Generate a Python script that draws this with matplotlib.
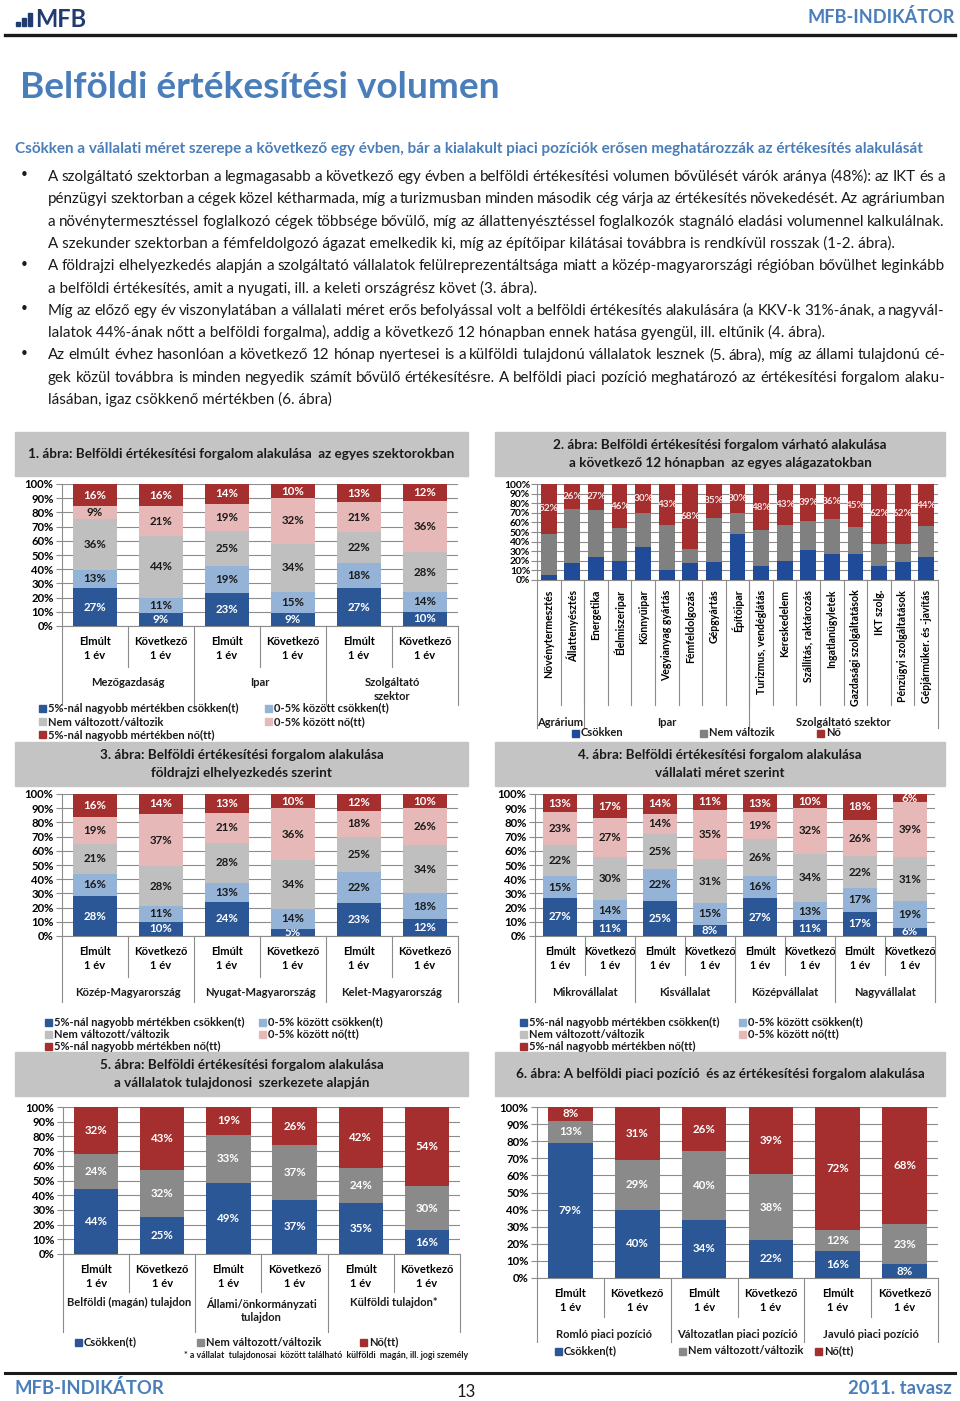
import matplotlib
matplotlib.use("Agg")
import matplotlib.pyplot as plt
import numpy as np
from matplotlib import font_manager
from matplotlib.lines import Line2D
from matplotlib.patches import Rectangle
from matplotlib.transforms import blended_transform_factory

W, H = 960, 1401

_NAMES = {f.name for f in font_manager.fontManager.ttflist}
NARROW = "Liberation Sans Narrow" if "Liberation Sans Narrow" in _NAMES else "Lato"

# ---- colours ----
BLUE_D = "#2B5796"
BLUE_L = "#95B3D7"
GREY_L = "#BFBFBF"
PINK = "#E6B9B8"
RED = "#A42F2E"
GREY_D = "#8A8A8A"
TITLE_BLUE = "#4A7EBB"
DARK = "#1A1A1A"
AXIS = "#8C8C8C"

# ---- text ----
TITLE = "Belföldi értékesítési volumen"
SUBTITLE = ("Csökken a vállalati méret szerepe a következő egy évben, bár a kialakult "
            "piaci pozíciók erősen meghatározzák az értékesítés alakulását")
BODY = [
    ("A szolgáltató szektorban a legmagasabb a következő egy évben a belföldi értékesítési volumen bővülését várók aránya (48%): az IKT és a", True, True),
    ("pénzügyi szektorban a cégek közel kétharmada, míg a turizmusban minden második cég várja az értékesítés növekedését. Az agráriumban", False, True),
    ("a növénytermesztéssel foglalkozó cégek többsége bővülő, míg az állattenyésztéssel foglalkozók stagnáló eladási volumennel kalkulálnak.", False, True),
    ("A szekunder szektorban a fémfeldolgozó ágazat emelkedik ki, míg az építőipar kilátásai továbbra is rendkívül rosszak (1-2. ábra).", False, False),
    ("A földrajzi elhelyezkedés alapján a szolgáltató vállalatok felülreprezentáltsága miatt a közép-magyarországi régióban bővülhet leginkább", True, True),
    ("a belföldi értékesítés, amit a nyugati, ill. a keleti országrész követ (3. ábra).", False, False),
    ("Míg az előző egy év viszonylatában a vállalati méret erős befolyással volt a belföldi értékesítés alakulására (a KKV-k 31%-ának, a nagyvál-", True, True),
    ("lalatok 44%-ának nőtt a belföldi forgalma), addig a következő 12 hónapban ennek hatása gyengül, ill. eltűnik (4. ábra).", False, False),
    ("Az elmúlt évhez hasonlóan a következő 12 hónap nyertesei is a külföldi tulajdonú vállalatok lesznek (5. ábra), míg az állami tulajdonú cé-", True, True),
    ("gek közül továbbra is minden negyedik számít bővülő értékesítésre. A belföldi piaci pozíció meghatározó az értékesítési forgalom alaku-", False, True),
    ("lásában, igaz csökkenő mértékben (6. ábra)", False, False),
]

PERIODS2 = ["Elmúlt\n1 év", "Következő\n1 év"]
LEG5 = ["5%-nál nagyobb mértékben csökken(t)", "0-5% között csökken(t)",
        "Nem változott/változik", "0-5% között nő(tt)",
        "5%-nál nagyobb mértékben nő(tt)"]
LEG3 = ["Csökken(t)", "Nem változott/változik", "Nő(tt)"]

# ---- 1. ábra: szektorok ----
C1_GROUPS = ["Mezőgazdaság", "Ipar", "Szolgáltató\nszektor"]
C1_DEC5 = [27, 9, 23, 9, 27, 10]
C1_DEC0 = [13, 11, 19, 15, 18, 14]
C1_SAME = [36, 44, 25, 34, 22, 28]
C1_INC0 = [9, 21, 19, 32, 21, 36]
C1_INC5 = [16, 16, 14, 10, 13, 12]

# ---- 2. ábra: alágazatok ----
C2_SECTORS = ["Növénytermesztés", "Állattenyésztés", "Energetika", "Élelmiszeripar",
              "Könnyűipar", "Vegyianyag gyártás", "Fémfeldolgozás", "Gépgyártás",
              "Építőipar", "Turizmus, vendéglátás", "Kereskedelem",
              "Szállítás, raktározás", "Ingatlanügyletek", "Gazdasági szolgáltatások",
              "IKT szolg.", "Pénzügyi szolgáltatások", "Gépjárműker. és -javítás"]
C2_GROUPS = ["Agrárium", "Ipar", "Szolgáltató szektor"]
C2_GROUP_SIZES = [2, 7, 8]
C2_DOWN = [5, 18, 24, 20, 34, 10, 18, 19, 48, 15, 20, 31, 27, 27, 15, 19, 24]
C2_SAME = [43, 56, 49, 34, 36, 47, 14, 46, 22, 37, 37, 30, 37, 28, 23, 19, 32]
C2_UP = [52, 26, 27, 46, 30, 43, 68, 35, 30, 48, 43, 39, 36, 45, 62, 62, 44]

# ---- 3. ábra: régiók ----
C3_GROUPS = ["Közép-Magyarország", "Nyugat-Magyarország", "Kelet-Magyarország"]
C3_DEC5 = [28, 10, 24, 5, 23, 12]
C3_DEC0 = [16, 11, 13, 14, 22, 18]
C3_SAME = [21, 28, 28, 34, 25, 34]
C3_INC0 = [19, 37, 21, 36, 18, 26]
C3_INC5 = [16, 14, 13, 10, 12, 10]

# ---- 4. ábra: vállalati méret ----
C4_GROUPS = ["Mikrovállalat", "Kisvállalat", "Középvállalat", "Nagyvállalat"]
C4_DEC5 = [27, 11, 25, 8, 27, 11, 17, 6]
C4_DEC0 = [15, 14, 22, 15, 16, 13, 17, 19]
C4_SAME = [22, 30, 25, 31, 26, 34, 22, 31]
C4_INC0 = [23, 27, 14, 35, 19, 32, 26, 39]
C4_INC5 = [13, 17, 14, 11, 13, 10, 18, 6]

# ---- 5. ábra: tulajdonosi szerkezet ----
C5_GROUPS = ["Belföldi (magán) tulajdon", "Állami/önkormányzati\ntulajdon", "Külföldi tulajdon*"]
C5_DOWN = [44, 25, 49, 37, 35, 16]
C5_SAME = [24, 32, 33, 37, 24, 30]
C5_UP = [32, 43, 19, 26, 42, 54]

# ---- 6. ábra: piaci pozíció ----
C6_GROUPS = ["Romló piaci pozíció", "Változatlan piaci pozíció", "Javuló piaci pozíció"]
C6_DOWN = [79, 40, 34, 22, 16, 8]
C6_SAME = [13, 29, 40, 38, 12, 23]
C6_UP = [8, 31, 26, 39, 72, 68]

LABEL_SIZE = 8.3
TICK_SIZE = 8.2


def fx(x):
    return x / W


def fy(y):
    return 1 - y / H


def text_width(fig, s, size, **kw):
    """Width in pixels of a string at a given size."""
    t = fig.text(0, 0, s, fontsize=size, **kw)
    w = t.get_window_extent(fig.canvas.get_renderer()).width
    t.remove()
    return w


def fit_size(fig, s, width, **kw):
    return 10 * width / text_width(fig, s, 10, **kw)


def justify(fig, x0, x1, y, s, size, **kw):
    """Spread the words of one line between x0 and x1."""
    words = s.split()
    widths = [text_width(fig, w, size, **kw) for w in words]
    gap = (x1 - x0 - sum(widths)) / (len(words) - 1)
    x = x0
    for word, ww in zip(words, widths):
        fig.text(fx(x), fy(y), word, fontsize=size, va="baseline", **kw)
        x += ww + gap


def axes_px(fig, l, t, r, b):
    return fig.add_axes([l / W, 1 - b / H, (r - l) / W, (b - t) / H])


def title_box(fig, l, t, r, b, lines, size):
    fig.patches.append(Rectangle((fx(l), fy(b)), (r - l) / W, (b - t) / H,
                                 transform=fig.transFigure, color="#C4C4C4", zorder=0))
    mid = (t + b) / 2
    n = len(lines)
    for i, s in enumerate(lines):
        y = mid + (i - (n - 1) / 2) * 18
        fig.text(fx((l + r) / 2), fy(y), s, fontsize=size, fontweight="bold",
                 color=DARK, ha="center", va="center", family=NARROW)


def legend_item(fig, x, y, color, label, size=8.0):
    fig.patches.append(Rectangle((fx(x - 3.5), fy(y + 3.5)), 7 / W, 7 / H,
                                 transform=fig.transFigure, color=color))
    fig.text(fx(x + 6), fy(y), label, fontsize=size, fontweight="bold",
             color=DARK, va="center", family=NARROW)


def stacked(ax, series, colors, txt_colors, label_size=LABEL_SIZE):
    data = np.array(series, dtype=float)
    share = data / data.sum(axis=0) * 100
    x = np.arange(data.shape[1])
    bottom = np.zeros(len(x))
    for vals, sh, c, tc in zip(data, share, colors, txt_colors):
        bars = ax.bar(x, sh, 0.67, bottom=bottom, color=c, zorder=3)
        if tc is not None:
            ax.bar_label(bars, labels=[f"{v:.0f}%" for v in vals], label_type="center",
                         color=tc, fontsize=label_size, fontweight="bold", family=NARROW)
        bottom += sh
    return x


def style_axes(ax, n, ysize=TICK_SIZE):
    ax.set_xlim(-0.5, n - 0.5)
    ax.set_ylim(0, 100)
    ax.set_yticks(range(0, 101, 10))
    ax.set_yticklabels([f"{v}%" for v in range(0, 101, 10)], fontweight="bold",
                       fontsize=ysize, family=NARROW)
    ax.yaxis.grid(True, color=AXIS, lw=0.8, zorder=0)
    for side in ("top", "right"):
        ax.spines[side].set_visible(False)
    for side in ("left", "bottom"):
        ax.spines[side].set_color(AXIS)
        ax.spines[side].set_linewidth(0.8)
    ax.tick_params(axis="y", length=4, width=0.8, color=AXIS, pad=2)
    ax.tick_params(axis="x", length=0)


def category_axis(ax, labels, label_pad_px, size=8.0):
    ax.set_xticks(np.arange(len(labels)))
    ax.set_xticklabels(labels, fontweight="bold", fontsize=size, family=NARROW,
                       linespacing=1.3)
    ax.tick_params(axis="x", pad=label_pad_px * 0.72)


def separators(fig, ax, positions, top_px, end_px):
    trans = blended_transform_factory(ax.transData, fig.transFigure)
    for p in positions:
        ax.add_line(Line2D([p, p], [fy(top_px), fy(end_px)], transform=trans,
                           color=AXIS, lw=0.8, clip_on=False))


def group_labels(fig, ax, labels, centers, y_px, size=8.0):
    trans = blended_transform_factory(ax.transData, fig.transFigure)
    for s, c in zip(labels, centers):
        ax.text(c, fy(y_px), s, transform=trans, ha="center", va="top",
                fontsize=size, fontweight="bold", family=NARROW, color=DARK,
                linespacing=1.3)


def paired_chart(fig, box, series, colors, txt_colors, groups, sep_px, grp_px,
                 cat_size=8.0):
    """Elmúlt / Következő pairs with group labels below."""
    l, t, r, b = box
    ax = axes_px(fig, l, t, r, b)
    n = len(series[0])
    stacked(ax, series, colors, txt_colors)
    style_axes(ax, n)
    category_axis(ax, PERIODS2 * (n // 2), 10, size=cat_size)
    inner = [2 * i + 0.5 for i in range(n // 2)]
    outer = [2 * i - 0.5 for i in range(n // 2 + 1)]
    separators(fig, ax, inner, b, sep_px[0])
    separators(fig, ax, outer, b, sep_px[1])
    group_labels(fig, ax, groups, inner, grp_px)
    return ax


def draw_header(fig):
    # logo
    for x0, h in ((16, 4), (22, 8), (28, 13)):
        fig.patches.append(Rectangle((fx(x0), fy(26)), 4 / W, h / H,
                                     transform=fig.transFigure, color="#1F3B70"))
    fig.text(fx(35), fy(27), "MFB", fontsize=17, fontweight="bold", color="#1F3B70",
             va="baseline", family="Lato")
    s = fit_size(fig, "MFB-INDIKÁTOR", 147, fontweight="bold", family=NARROW)
    fig.text(fx(955), fy(17), "MFB-INDIKÁTOR", fontsize=s, fontweight="bold",
             color=TITLE_BLUE, ha="right", va="center", family=NARROW)
    fig.add_artist(Line2D([fx(5), fx(955)], [fy(35), fy(35)], transform=fig.transFigure,
                          color=DARK, lw=2.4))
    s = fit_size(fig, TITLE, 482, fontweight="bold", family=NARROW)
    fig.text(fx(20), fy(87), TITLE, fontsize=s, fontweight="bold", color=TITLE_BLUE,
             va="center", family=NARROW)
    s = fit_size(fig, SUBTITLE, 907, fontweight="bold", family=NARROW)
    fig.text(fx(15), fy(149), SUBTITLE, fontsize=s, fontweight="bold", color=TITLE_BLUE,
             va="center", family=NARROW)


def draw_body(fig):
    size = fit_size(fig, BODY[3][0], 842, family=NARROW)
    for i, (line, bullet, just) in enumerate(BODY):
        y = 176 + i * 22.3
        base = y + 5
        if bullet:
            fig.text(fx(20), fy(y), "•", fontsize=size, color=DARK, va="center",
                     family="DejaVu Sans")
        if just:
            justify(fig, 48, 945, base, line, size, color=DARK, family=NARROW)
        else:
            fig.text(fx(48), fy(base), line, fontsize=size, color=DARK, va="baseline",
                     family=NARROW)


def draw_footer(fig):
    fig.add_artist(Line2D([fx(5), fx(955)], [fy(1373), fy(1373)], transform=fig.transFigure,
                          color=DARK, lw=2.2))
    s = fit_size(fig, "MFB-INDIKÁTOR", 150, fontweight="bold", family=NARROW)
    fig.text(fx(15), fy(1388), "MFB-INDIKÁTOR", fontsize=s, fontweight="bold",
             color=TITLE_BLUE, va="center", family=NARROW)
    fig.text(fx(952), fy(1388), "2011. tavasz", fontsize=s, fontweight="bold",
             color=TITLE_BLUE, ha="right", va="center", family=NARROW)
    fig.text(fx(466), fy(1392), "13", fontsize=12, color=DARK, ha="center",
             va="center", family=NARROW)


def main():
    fig = plt.figure(figsize=(W / 100, H / 100), dpi=100)
    draw_header(fig)
    draw_body(fig)

    tsize = fit_size(fig, "3. ábra: Belföldi értékesítési forgalom alakulása", 284,
                     fontweight="bold", family=NARROW)
    five = [BLUE_D, BLUE_L, GREY_L, PINK, RED]
    five_txt = ["white", DARK, DARK, DARK, "white"]

    # 1. ábra
    title_box(fig, 15, 432, 468, 476,
              ["1. ábra: Belföldi értékesítési forgalom alakulása  az egyes szektorokban"], tsize)
    paired_chart(fig, (62, 484, 458, 626), [C1_DEC5, C1_DEC0, C1_SAME, C1_INC0, C1_INC5],
                 five, five_txt, C1_GROUPS, (667, 705), 677)
    for (x, y), c, s in zip([(42, 708), (268, 708), (42, 722), (268, 722), (42, 735)], five, LEG5):
        legend_item(fig, x, y, c, s)

    # 2. ábra
    title_box(fig, 495, 432, 945, 476,
              ["2. ábra: Belföldi értékesítési forgalom várható alakulása",
               "a következő 12 hónapban  az egyes alágazatokban"], tsize)
    ax = axes_px(fig, 537, 484, 938, 580)
    stacked(ax, [C2_DOWN, C2_SAME, C2_UP], ["#1F4B99", "#808080", RED],
            [None, None, "#F6E4E4"], label_size=7.2)
    style_axes(ax, len(C2_SECTORS), ysize=7.4)
    ax.tick_params(axis="y", pad=1)
    ax.set_xticks(np.arange(len(C2_SECTORS)))
    ax.set_xticklabels(C2_SECTORS, rotation=90, va="top", ha="center", fontweight="bold",
                       fontsize=7.6, family=NARROW)
    ax.tick_params(axis="x", pad=7)
    edges = np.cumsum([0] + C2_GROUP_SIZES) - 0.5
    separators(fig, ax, [i + 0.5 for i in range(len(C2_SECTORS) - 1)], 580, 705)
    separators(fig, ax, edges, 580, 728)
    centers = [(edges[i] + edges[i + 1]) / 2 for i in range(len(C2_GROUPS))]
    group_labels(fig, ax, C2_GROUPS, centers, 717)
    for x, c, s in zip([575, 703, 820], ["#1F4B99", "#808080", RED],
                       ["Csökken", "Nem változik", "Nő"]):
        legend_item(fig, x, 733, c, s)

    # 3. ábra
    title_box(fig, 15, 742, 468, 786,
              ["3. ábra: Belföldi értékesítési forgalom alakulása",
               "földrajzi elhelyezkedés szerint"], tsize)
    paired_chart(fig, (62, 794, 458, 936), [C3_DEC5, C3_DEC0, C3_SAME, C3_INC0, C3_INC5],
                 five, five_txt, C3_GROUPS, (977, 1002), 987)
    for (x, y), c, s in zip([(48, 1022), (262, 1022), (48, 1034), (262, 1034), (48, 1046)],
                            five, LEG5):
        legend_item(fig, x, y, c, s)

    # 4. ábra
    title_box(fig, 495, 742, 945, 786,
              ["4. ábra: Belföldi értékesítési forgalom alakulása",
               "vállalati méret szerint"], tsize)
    paired_chart(fig, (535, 794, 935, 936), [C4_DEC5, C4_DEC0, C4_SAME, C4_INC0, C4_INC5],
                 five, five_txt, C4_GROUPS, (975, 1002), 987, cat_size=7.75)
    for (x, y), c, s in zip([(523, 1022), (742, 1022), (523, 1034), (742, 1034), (523, 1046)],
                            five, LEG5):
        legend_item(fig, x, y, c, s)

    three = [BLUE_D, GREY_D, RED]
    three_txt = ["white", "white", "white"]

    # 5. ábra
    title_box(fig, 15, 1052, 468, 1096,
              ["5. ábra: Belföldi értékesítési forgalom alakulása",
               "a vállalatok tulajdonosi  szerkezete alapján"], tsize)
    paired_chart(fig, (63, 1107, 460, 1254), [C5_DOWN, C5_SAME, C5_UP],
                 three, three_txt, C5_GROUPS, (1292, 1332), 1297)
    for x, c, s in zip([78, 200, 363], three, LEG3):
        legend_item(fig, x, 1342, c, s)
    fig.text(fx(468), fy(1355), "* a vállalat  tulajdonosai  között található  külföldi  "
             "magán, ill. jogi személy", fontsize=6.3, fontweight="bold", color=DARK,
             ha="right", va="center", family=NARROW)

    # 6. ábra
    title_box(fig, 495, 1052, 945, 1096,
              ["6. ábra: A belföldi piaci pozíció  és az értékesítési forgalom alakulása"], tsize)
    paired_chart(fig, (537, 1107, 938, 1278), [C6_DOWN, C6_SAME, C6_UP],
                 three, three_txt, C6_GROUPS, (1317, 1342), 1329)
    for x, c, s in zip([558, 682, 818], three, LEG3):
        legend_item(fig, x, 1351, c, s)

    draw_footer(fig)
    fig.savefig("out.png", dpi=100)


if __name__ == "__main__":
    main()
